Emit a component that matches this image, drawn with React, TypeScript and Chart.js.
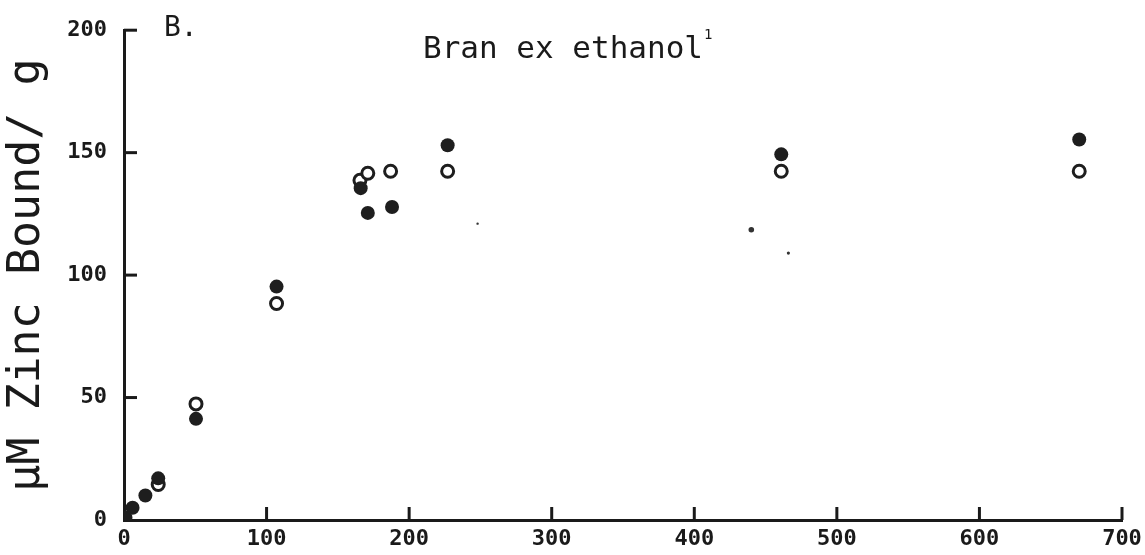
import React, { useEffect, useRef } from "react";
import { Chart, registerables } from "chart.js";

Chart.register(...registerables);

const xTicks = [0, 100, 200, 300, 400, 500, 600, 700];
const yTicks = [0, 50, 100, 150, 200];

const filledX = [1, 6, 15, 24, 50.5, 107, 166, 171, 188, 227, 461, 670];
const filledY = [1, 5, 10, 17, 41.3, 95.3, 135.5, 125.4, 127.8, 153, 149.3, 155.4];

const openX = [24, 50.5, 107, 165.5, 171, 187, 227, 461, 670];
const openY = [14.5, 47.4, 88.4, 138.7, 141.6, 142.4, 142.4, 142.4, 142.4];

const speckX = [248, 440, 466];
const speckY = [121, 118.5, 109];
const speckR = [1.2, 2.8, 1.6];

const titleText = "Bran ex ethanol";
const panelLabel = "B.";
const yTitle = "µM Zinc Bound/ g";

const MONO = "'DejaVu Sans Mono', monospace";

const inwardTicks = {
  id: "inwardTicks",
  afterDraw(chart: any) {
    const ctx = chart.ctx;
    const xs = chart.scales.x;
    const ys = chart.scales.y;
    const area = chart.chartArea;
    ctx.save();
    ctx.strokeStyle = "#1a1a1a";
    ctx.lineWidth = 3;
    ctx.lineCap = "butt";
    for (const v of xTicks) {
      if (v === 0) continue;
      const px = xs.getPixelForValue(v);
      ctx.beginPath();
      ctx.moveTo(px, area.bottom);
      ctx.lineTo(px, area.bottom - 13);
      ctx.stroke();
    }
    for (const v of yTicks) {
      if (v === 0) continue;
      const py = ys.getPixelForValue(v);
      ctx.beginPath();
      ctx.moveTo(area.left, py);
      ctx.lineTo(area.left + 13, py);
      ctx.stroke();
    }
    // texts
    ctx.fillStyle = "#1a1a1a";
    ctx.textBaseline = "alphabetic";
    ctx.textAlign = "left";
    ctx.font = `28px ${MONO}`;
    ctx.fillText(panelLabel, area.left + 40, area.top + 6);
    ctx.font = `31px ${MONO}`;
    ctx.fillText(titleText, area.left + 299, area.top + 28);
    const w = ctx.measureText(titleText).width;
    ctx.font = `14px ${MONO}`;
    ctx.fillText("1", area.left + 299 + w + 1, area.top + 9);
    ctx.restore();
  },
};

export default function App() {
  const ref = useRef<HTMLCanvasElement>(null);
  useEffect(() => {
    if (!ref.current) return;
    const chart = new Chart(ref.current, {
      type: "scatter",
      data: {
        datasets: [
          {
            label: "filled",
            data: filledX.map((x, i) => ({ x, y: filledY[i] })),
            backgroundColor: "#1e1e1e",
            borderColor: "#1e1e1e",
            borderWidth: 0,
            pointRadius: 7,
          },
          {
            label: "open",
            data: openX.map((x, i) => ({ x, y: openY[i] })),
            backgroundColor: "#ffffff",
            borderColor: "#1e1e1e",
            borderWidth: 3,
            pointRadius: 6,
          },
          {
            label: "specks",
            data: speckX.map((x, i) => ({ x, y: speckY[i] })),
            backgroundColor: "#333333",
            borderWidth: 0,
            pointRadius: speckR,
          },
        ],
      },
      options: {
        animation: false,
        responsive: false,
        devicePixelRatio: 1,
        layout: { padding: { left: 0, right: 23, top: 26, bottom: 0 } },
        plugins: { legend: { display: false }, tooltip: { enabled: false } },
        scales: {
          x: {
            type: "linear",
            min: 0,
            max: 700,
            afterFit: (s: any) => {
              s.height = 35;
              s.paddingRight = 0;
            },
            afterBuildTicks: (s: any) => {
              s.ticks = xTicks.map((v) => ({ value: v }));
            },
            grid: { display: false, drawTicks: false },
            border: { display: true, color: "#1a1a1a", width: 3 },
            ticks: {
              color: "#1a1a1a",
              padding: 6,
              font: { family: MONO, size: 22, weight: "bold" },
            },
          },
          y: {
            type: "linear",
            min: 0,
            max: 200,
            afterFit: (s: any) => {
              s.width = 124;
            },
            afterBuildTicks: (s: any) => {
              s.ticks = yTicks.map((v) => ({ value: v }));
            },
            grid: { display: false, drawTicks: false },
            border: { display: true, color: "#1a1a1a", width: 3 },
            title: {
              display: true,
              text: yTitle,
              color: "#1a1a1a",
              font: { family: MONO, size: 45 },
              padding: { top: 0, bottom: 0 },
            },
            ticks: {
              color: "#1a1a1a",
              padding: 17,
              font: { family: MONO, size: 22, weight: "bold" },
            },
          },
        },
      },
      plugins: [inwardTicks],
    });
    return () => chart.destroy();
  }, []);
  return (
    <div style={{ position: "fixed", left: 0, top: 0, width: 1145, height: 555, background: "#fff" }}>
      <canvas ref={ref} width={1145} height={555} />
    </div>
  );
}
